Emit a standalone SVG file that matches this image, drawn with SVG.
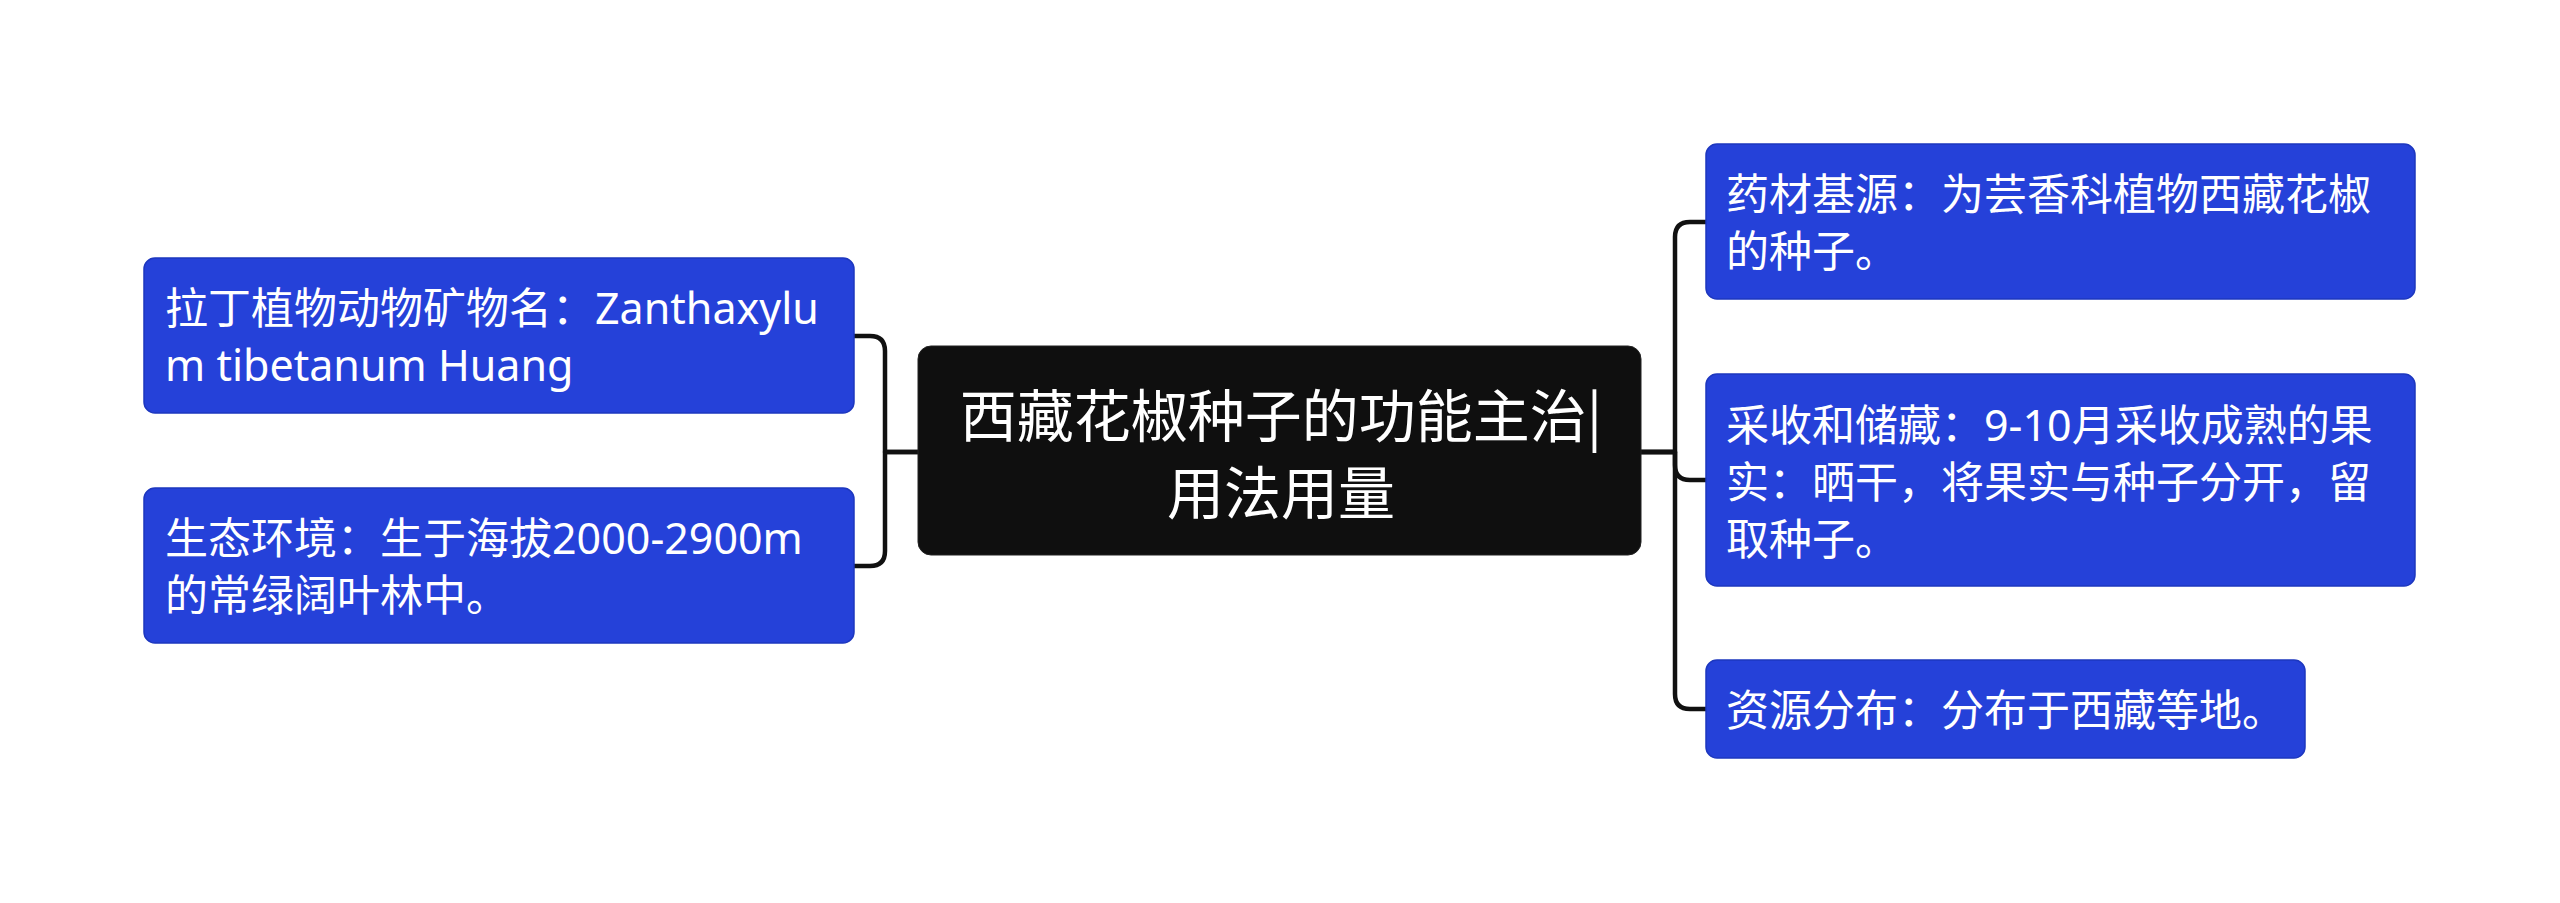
<svg xmlns="http://www.w3.org/2000/svg" width="2560" height="903" viewBox="0 0 2560 903">
<style>
.bg{fill:#ffffff}
.leaf{fill:#2541d9;stroke:#1d37bf;stroke-width:1.5}
.root{fill:#0f0f0f;stroke:#222;stroke-width:1}
.t{font-family:"Noto Sans","Noto Sans CJK SC",sans-serif;fill:#ffffff;font-size:43px}
.rt{font-family:"Noto Sans CJK SC","Noto Sans",sans-serif;fill:#ffffff;font-size:57px;text-anchor:middle}
.c{fill:none;stroke:#111111;stroke-width:4.5;stroke-linecap:round;stroke-linejoin:round}
</style>
<rect class="bg" x="0" y="0" width="2560" height="903"/>
<g id="connectors">
<path class="c" d="M918 452 H885 V351 Q885 336 870 336 H854"/>
<path class="c" d="M918 452 H885 V551 Q885 566 870 566 H854"/>
<path class="c" d="M1641 452 H1675 V237 Q1675 222 1690 222 H1706"/>
<path class="c" d="M1641 452 H1675 V465 Q1675 480 1690 480 H1706"/>
<path class="c" d="M1641 452 H1675 V694 Q1675 709 1690 709 H1706"/>
</g>
<g id="root">
<rect class="root" x="918" y="346" width="723" height="209" rx="13"/>
<text class="rt" x="1281" y="437">西藏花椒种子的功能主治|</text>
<text class="rt" x="1281" y="514">用法用量</text>
</g>
<g id="n-latin">
<rect class="leaf" x="144" y="258" width="710" height="155" rx="11"/>
<text class="t" x="165" y="324">拉丁植物动物矿物名：Zanthaxylu</text>
<text class="t" x="165" y="381">m tibetanum Huang</text>
</g>
<g id="n-habitat">
<rect class="leaf" x="144" y="488" width="710" height="155" rx="11"/>
<text class="t" x="165" y="554">生态环境：生于海拔2000-2900m</text>
<text class="t" x="165" y="611">的常绿阔叶林中。</text>
</g>
<g id="n-source">
<rect class="leaf" x="1706" y="144" width="709" height="155" rx="11"/>
<text class="t" x="1726" y="210">药材基源：为芸香科植物西藏花椒</text>
<text class="t" x="1726" y="267">的种子。</text>
</g>
<g id="n-harvest">
<rect class="leaf" x="1706" y="374" width="709" height="212" rx="11"/>
<text class="t" x="1726" y="441">采收和储藏：9-10月采收成熟的果</text>
<text class="t" x="1726" y="498">实：晒干，将果实与种子分开，留</text>
<text class="t" x="1726" y="555">取种子。</text>
</g>
<g id="n-distribution">
<rect class="leaf" x="1706" y="660" width="599" height="98" rx="11"/>
<text class="t" x="1726" y="726">资源分布：分布于西藏等地。</text>
</g>
</svg>
